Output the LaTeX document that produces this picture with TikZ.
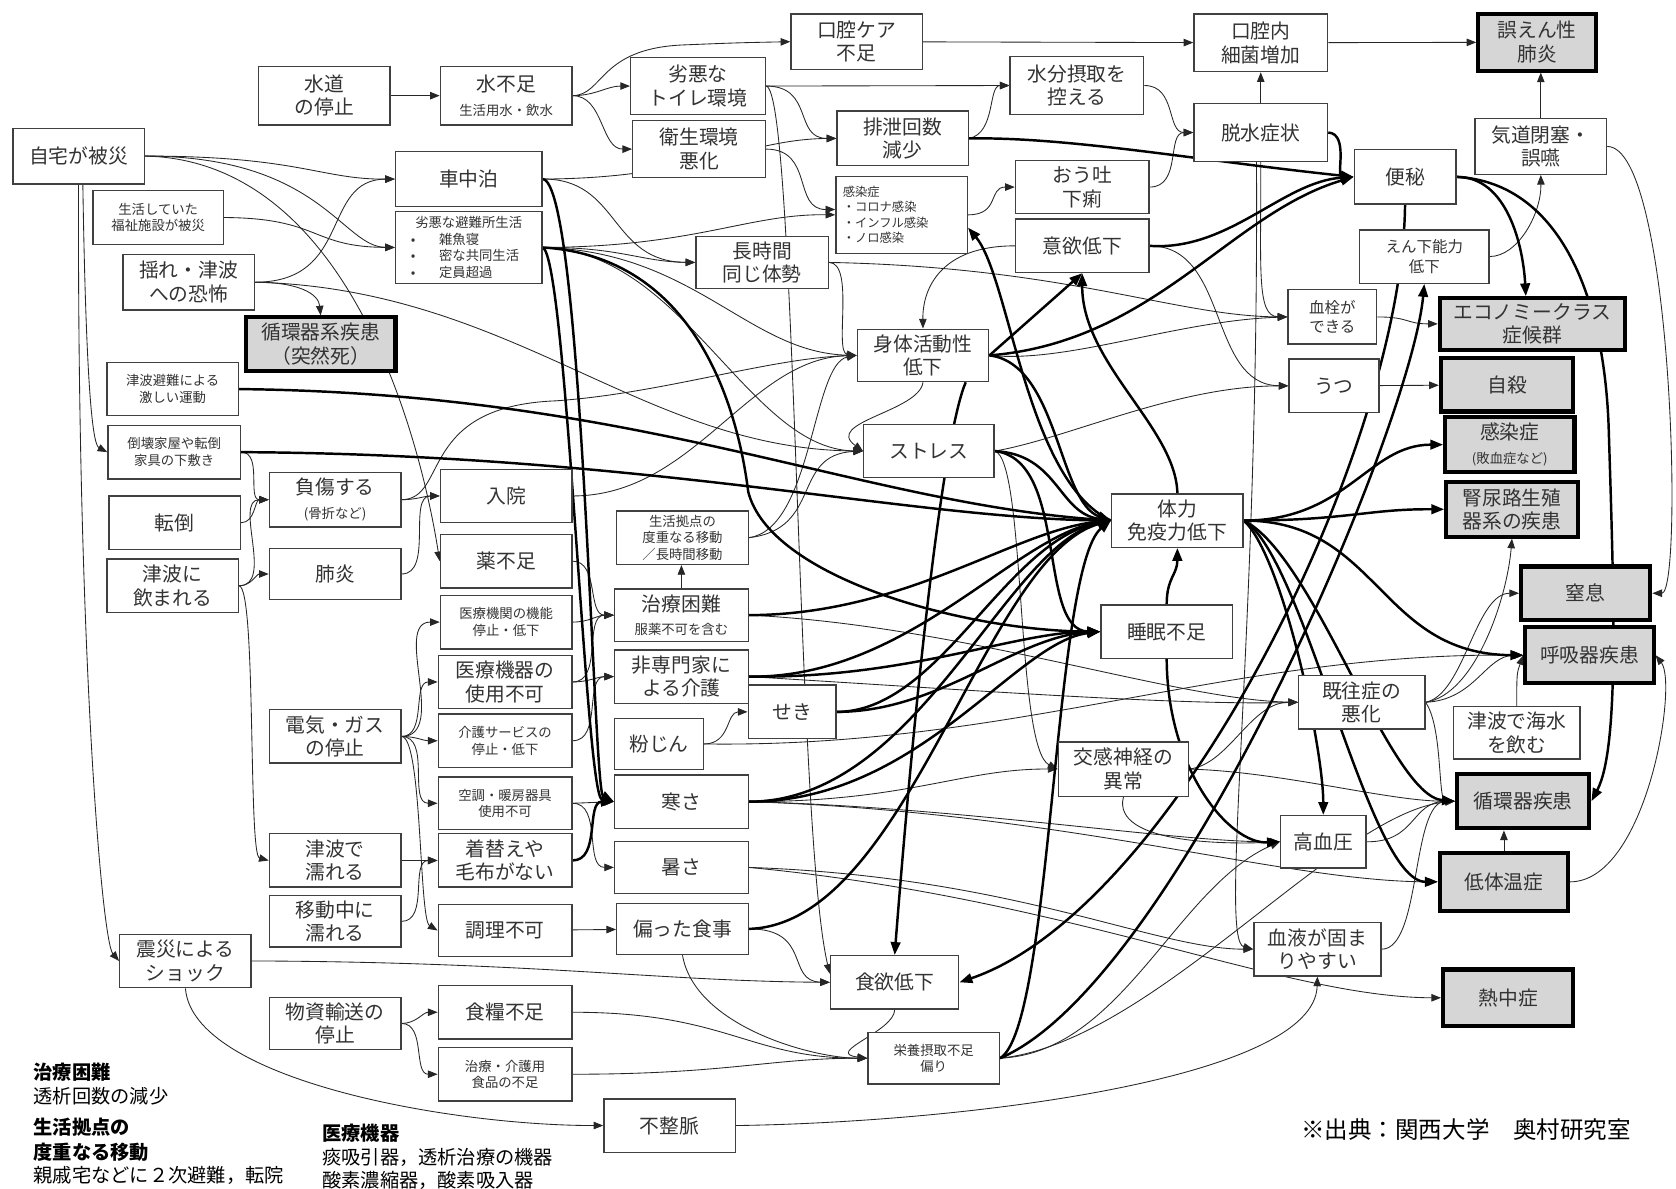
\documentclass[tikz,border=0pt]{standalone}
\usepackage{fontspec}
\setmainfont{Noto Sans CJK JP}
\usetikzlibrary{arrows.meta,calc}
\pgfdeclarelayer{bg}
\pgfsetlayers{bg,main}
\newcommand\fsM{\fontsize{18.5}{22}\selectfont}
\newcommand\fsN{\fontsize{14.5}{18}\selectfont}
\newcommand\fsS{\fontsize{12.5}{15.5}\selectfont}
\newcommand\fsT{\fontsize{11.5}{14.5}\selectfont}
\newcommand\fsL{\fontsize{18}{22}\selectfont}
\newcommand\bx[7][]{\node[nbox,minimum width={(#5-#3)*1pt},minimum height={(#6-#4)*1pt},#1] (#2) at ({(#3+#5)/2},{(#4+#6)/2}) {#7};}
\tikzset{
 nbox/.style={draw=black!75,line width=1.3pt,fill=white,inner sep=1pt,align=center,text=black!80,font=\fsM},
 gbox/.style={fill=black!16,draw=black,line width=3.8pt},
 ar/.style={line width=0.8pt,draw=black!85,-{Triangle[length=9pt,width=7pt]}},
 tk/.style={line width=2.3pt,draw=black,-{Triangle[length=12pt,width=9pt]}},
}
\begin{document}
\begin{tikzpicture}[x=1pt,y=-1pt]
\begin{pgfonlayer}{bg}
\fill[white] (0,0) rectangle (1568,1112);
\end{pgfonlayer}
\useasboundingbox (0,0) rectangle (1568,1112);
% nodes
\bx{koukuu}{740}{13}{863}{65}{口腔ケア\\不足}
\bx{naiku}{1117}{13}{1242}{67}{口腔内\\細菌増加}
\bx[gbox]{goen}{1383}{13}{1493}{66}{誤えん性\\肺炎}
\bx{suido}{242}{62}{365}{117}{水道\\の停止}
\bx{mizu}{412}{62}{535}{117}{水不足\\{\fsS 生活用水・飲水}}
\bx{toilet}{590}{54}{716}{107}{劣悪な\\トイレ環境}
\bx{suibun}{945}{53}{1070}{107}{水分摂取を\\控える}
\bx{eisei}{592}{113}{716}{166}{衛生環境\\悪化}
\bx{haisetsu}{783}{104}{906}{155}{排泄回数\\減少}
\bx{dassui}{1117}{97}{1242}{151}{脱水症状}
\bx{jitaku}{12}{120}{135}{172}{自宅が被災}
\bx{kidou}{1380}{111}{1503}{163}{気道閉塞・\\誤嚥}
\bx{sha}{370}{142}{507}{193}{車中泊}
\bx{benpi}{1267}{140}{1362}{191}{便秘}
\bx{outo}{950}{150}{1075}{200}{おう吐\\下痢}
\bx[font=\fsT,align=left,text width=110pt]{kansen}{782}{165}{905}{237}{感染症\\ ・コロナ感染\\ ・インフル感染\\ ・ノロ感染}
\bx[font=\fsS]{fukushi}{87}{178}{209}{229}{生活していた\\福祉施設が被災}
\bx[font=\fsS,align=left,text width=128pt]{hinan}{370}{198}{507}{265}{\makebox[128pt][c]{劣悪な避難所生活}\\ \hspace*{10pt}•\hspace{22pt}雑魚寝\\ \hspace*{10pt}•\hspace{22pt}密な共同生活\\ \hspace*{10pt}•\hspace{22pt}定員超過}
\bx{iyoku}{950}{205}{1075}{255}{意欲低下}
\bx[font=\fsN]{enka}{1272}{215}{1393}{265}{えん下能力\\低下}
\bx{nagai}{651}{221}{775}{270}{長時間\\同じ体勢}
\bx{yure}{115}{238}{238}{290}{揺れ・津波\\への恐怖}
\bx[font=\fsN]{kessen}{1205}{271}{1288}{322}{血栓が\\できる}
\bx[gbox]{economy}{1347}{279}{1520}{327}{エコノミークラス\\症候群}
\bx[gbox]{junkankei}{230}{297}{370}{347}{循環器系疾患\\（突然死）}
\bx{shintai}{802}{308}{925}{357}{身体活動性\\低下}
\bx[font=\fsS]{tsunamihinan}{100}{339}{223}{389}{津波避難による\\激しい運動}
\bx{utsu}{1206}{336}{1290}{386}{うつ}
\bx[gbox]{jisatsu}{1348}{335}{1472}{385}{自殺}
\bx[font=\fsS]{toukai}{101}{398}{225}{448}{倒壊家屋や転倒\\家具の下敷き}
\bx{stress}{808}{397}{930}{447}{ストレス}
\bx[gbox]{sepsis}{1352}{390}{1473}{442}{感染症\\{\fsS (敗血症など)}}
\bx{nyuin}{412}{439}{535}{489}{入院}
\bx{kega}{252}{442}{375}{493}{負傷する\\{\fsS (骨折など)}}
\bx[gbox]{jinnyou}{1353}{451}{1476}{502}{腎尿路生殖\\器系の疾患}
\bx{tairyoku}{1040}{462}{1163}{512}{体力\\免疫力低下}
\bx{tentou}{102}{464}{225}{514}{転倒}
\bx[font=\fsS]{kyoten}{577}{478}{700}{528}{生活拠点の\\度重なる移動\\／長時間移動}
\bx{kusuri}{412}{500}{535}{550}{薬不足}
\bx{haien}{252}{513}{375}{561}{肺炎}
\bx{nomareru}{100}{523}{223}{573}{津波に\\飲まれる}
\bx[gbox]{chissoku}{1423}{530}{1544}{580}{窒息}
\bx[font=\fsS]{kikan}{412}{557}{535}{607}{医療機関の機能\\停止・低下}
\bx{chiryou}{575}{551}{700}{600}{治療困難\\{\fsS 服薬不可を含む}}
\bx{suimin}{1030}{566}{1153}{616}{睡眠不足}
\bx[gbox]{kokyuuki}{1427}{587}{1547}{639}{呼吸器疾患}
\bx{kiki}{410}{613}{535}{663}{医療機器の\\使用不可}
\bx{hisenmon}{575}{608}{700}{658}{非専門家に\\よる介護}
\bx{kiou}{1215}{632}{1333}{682}{既往症の\\悪化}
\bx{seki}{700}{641}{782}{691}{せき}
\bx{kaisui}{1360}{661}{1478}{710}{津波で海水\\を飲む}
\bx{denki}{252}{664}{375}{714}{電気・ガス\\の停止}
\bx[font=\fsS]{kaigo}{410}{668}{535}{718}{介護サービスの\\停止・低下}
\bx{funjin}{575}{672}{658}{720}{粉じん}
\bx{kousin}{990}{694}{1112}{745}{交感神経の\\異常}
\bx[font=\fsS]{kuchou}{410}{727}{535}{776}{空調・暖房器具\\使用不可}
\bx{samusa}{575}{725}{700}{775}{寒さ}
\bx[gbox]{junkan}{1363}{724}{1487}{775}{循環器疾患}
\bx{kouketsu}{1198}{763}{1278}{812}{高血圧}
\bx{nureru}{252}{780}{375}{830}{津波で\\濡れる}
\bx{kigae}{410}{780}{535}{830}{着替えや\\毛布がない}
\bx{atsusa}{575}{787}{700}{836}{暑さ}
\bx[gbox]{teitaion}{1347}{798}{1467}{852}{低体温症}
\bx{idou}{252}{838}{375}{886}{移動中に\\濡れる}
\bx{chouri}{410}{846}{535}{895}{調理不可}
\bx{katayotta}{577}{845}{700}{893}{偏った食事}
\bx{ketsueki}{1173}{863}{1292}{913}{血液が固ま\\りやすい}
\bx{shinsai}{112}{874}{235}{924}{震災による\\ショック}
\bx{shokuyoku}{777}{894}{897}{944}{食欲低下}
\bx[gbox]{netsu}{1350}{907}{1472}{960}{熱中症}
\bx{butsushi}{252}{933}{375}{982}{物資輸送の\\停止}
\bx{shokuryou}{410}{922}{535}{972}{食糧不足}
\bx[font=\fsS]{eiyou}{812}{966}{935}{1014}{栄養摂取不足\\偏り}
\bx[font=\fsS]{shokuhin}{410}{980}{535}{1030}{治療・介護用\\食品の不足}
\bx{fusei}{565}{1028}{688}{1078}{不整脈}
% legend
\node[anchor=west,font=\fsL\bfseries] (lg1) at (28,1003) {治療困難};
\node[anchor=west,font=\fsL] (lg2) at (28,1026) {透析回数の減少};
\node[anchor=west,font=\fsL\bfseries] (lg3) at (28,1055) {生活拠点の};
\node[anchor=west,font=\fsL\bfseries] (lg4) at (28,1078) {度重なる移動};
\node[anchor=west,font=\fsL] (lg5) at (28,1100) {親戚宅などに２次避難，転院};
\node[anchor=west,font=\fsL\bfseries] (lg6) at (298,1060) {医療機器};
\node[anchor=west,font=\fsL] (lg7) at (298,1083) {痰吸引器，透析治療の機器};
\node[anchor=west,font=\fsL] (lg8) at (298,1104) {酸素濃縮器，酸素吸入器};
\node[anchor=west,font=\fontsize{22}{26}\selectfont] (src) at (1214,1057) {※出典：関西大学　奥村研究室};
\begin{pgfonlayer}{bg}
% thin connectors
\draw[ar] (suido) -- (mizu);
\draw[ar] (mizu.east) .. controls (565,89) and (560,45) .. (640,42) .. controls (690,40) .. (koukuu.west);
\draw[ar] (mizu.east) to[out=0,in=180] (toilet.west);
\draw[ar] (mizu.east) to[out=0,in=180] (eisei.west);
\draw[ar] (koukuu) -- (naiku);
\draw[ar] (naiku) -- (goen);
\draw[ar] (toilet.east) -- (suibun.west);
\draw[ar] (toilet.east) .. controls +(45,0) and +(-40,0) .. (haisetsu.west);
\draw[ar] (toilet.east) .. controls (745,82) and (745,780) .. ($(shokuyoku.west)+(0,-8)$);
\draw[ar] (eisei.east) .. controls +(45,0) and +(-40,0) .. ($(kansen.west)+(0,-5)$);
\draw[ar] (suibun.east) .. controls +(30,0) and +(-25,0) .. (dassui.west);
\draw[ar] (outo.east) .. controls +(30,0) and +(-25,0) .. (dassui.west);
\draw[ar] (dassui) -- (naiku);
\draw[ar] (haisetsu.east) .. controls +(25,-5) and +(-20,0) .. (suibun.west);
\draw[ar] (dassui.south) .. controls (1180,250) and (1175,296) .. (kessen.west);
\draw[ar] ($(dassui.south)+(-4,0)$) .. controls (1178,600) and (1140,880) .. (ketsueki.west);
\draw[ar] (kidou.north) -- (kidou.north |- goen.south);
\draw[ar] (kidou.east) .. controls (1565,137) and (1575,555) .. (chissoku.east);
\draw[ar] (enka.east) .. controls (1420,240) and (1442,200) .. (kidou.south);
\draw[ar] (kessen.east) .. controls +(30,0) and +(-30,0) .. (economy.west);
\draw[ar] (utsu) -- (jisatsu);
\draw[ar] (kansen.east) .. controls +(30,0) and +(-25,0) .. (outo.west);
\draw[ar] (iyoku.west) .. controls (880,230) and (863,270) .. (shintai.north);
\draw[ar] (iyoku.east) .. controls (1150,230) and (1130,360) .. (utsu.west);
\draw[ar] (nagai.east) .. controls (1000,250) and (1100,296) .. (kessen.west);
\draw[ar] (nagai.east) .. controls (800,246) and (780,330) .. (shintai.west);
\draw[ar] (sha.east) .. controls (650,167) and (700,130) .. (haisetsu.west);
\draw[ar] (sha.east) .. controls (580,167) and (570,245) .. (nagai.west);
\draw[ar] (hinan.east) .. controls (650,231) and (700,200) .. (kansen.west);
\draw[ar] (hinan.east) .. controls (580,231) and (600,245) .. (nagai.west);
\draw[ar] (jitaku.east) .. controls (280,146) and (300,168) .. (sha.west);
\draw[ar] (jitaku.east) .. controls (300,146) and (320,231) .. (hinan.west);
\draw[ar] (jitaku.east) .. controls (330,150) and (395,420) .. (kusuri.west);
\draw[ar] ($(jitaku.south)+(4,0)$) .. controls (80,330) and (85,415) .. (toukai.west);
\draw[ar] (jitaku.south) .. controls (72,600) and (95,880) .. (shinsai.west);
\draw[ar] (fukushi.east) .. controls (300,204) and (290,231) .. (hinan.west);
\draw[ar] (yure.east) .. controls (330,264) and (300,168) .. (sha.west);
\draw[ar] (yure.east) .. controls (280,264) and (298,275) .. (junkankei.north);
\draw[ar] (yure.east) .. controls (480,270) and (600,420) .. (stress.west);
\draw[ar] (kega.east) to[out=0,in=180] (nyuin.west);
\draw[ar] (kega.east) .. controls (420,467) and (390,380) .. (520,375) .. controls (620,368) and (720,335) .. (shintai.west);
\draw[ar] (haien.east) .. controls +(30,0) and +(-30,0) .. (nyuin.west);
\draw[ar] (nyuin.east) .. controls (650,464) and (700,335) .. (shintai.west);
\draw[ar] (toukai.east) to[out=0,in=180] (kega.west);
\draw[ar] (tentou.east) to[out=0,in=180] (kega.west);
\draw[ar] (nomareru.east) to[out=0,in=180] (kega.west);
\draw[ar] (nomareru.east) to[out=0,in=180] (haien.west);
\draw[ar] (nomareru.east) .. controls (240,550) and (232,800) .. (nureru.west);
\draw[ar] (kusuri.east) to[out=0,in=180] (chiryou.west);
\draw[ar] (kikan.east) to[out=0,in=180] (chiryou.west);
\draw[ar] (kiki.east) to[out=0,in=180] (chiryou.west);
\draw[ar] (kiki.east) to[out=0,in=180] (hisenmon.west);
\draw[ar] (kaigo.east) to[out=0,in=180] (hisenmon.west);
\draw[ar] (denki.east) to[out=0,in=180] (kikan.west);
\draw[ar] (denki.east) to[out=0,in=180] (kiki.west);
\draw[ar] (denki.east) to[out=0,in=180] (kaigo.west);
\draw[ar] (denki.east) to[out=0,in=180] (kuchou.west);
\draw[ar] (denki.east) .. controls (395,689) and (392,860) .. (chouri.west);
\draw[ar] (kuchou.east) -- (samusa.west);
\draw[ar] (kuchou.east) to[out=0,in=180] (atsusa.west);
\draw[ar] (nureru) -- (kigae);
\draw[ar] (idou.east) to[out=0,in=180] (kigae.west);
\draw[ar] (chouri) -- (katayotta);
\draw[ar] (butsushi.east) to[out=0,in=180] (shokuryou.west);
\draw[ar] (butsushi.east) to[out=0,in=180] (shokuhin.west);
\draw[ar] (shokuryou.east) .. controls (680,947) and (700,990) .. (eiyou.west);
\draw[ar] (shokuhin.east) .. controls (680,1005) and (720,990) .. (eiyou.west);
\draw[ar] (shinsai.east) .. controls (500,900) and (620,918) .. (shokuyoku.west);
\draw[ar] (shinsai.south) .. controls (180,1010) and (420,1053) .. (fusei.west);
\draw[ar] (katayotta.east) .. controls (760,869) and (735,918) .. (shokuyoku.west);
\draw[ar] (katayotta.south) .. controls (650,960) and (760,990) .. (eiyou.west);
\draw[ar] (shokuyoku.south) .. controls (837,965) and (770,985) .. (eiyou.west);
\draw[ar] (chiryou.north) -- (chiryou.north |- kyoten.south);
\draw[ar] (kyoten.east) .. controls (770,495) and (740,425) .. (stress.west);
\draw[ar] (kyoten.east) .. controls (760,495) and (760,340) .. (shintai.west);
\draw[ar] (chiryou.east) .. controls (900,585) and (1100,655) .. (kiou.west);
\draw[ar] (hisenmon.east) .. controls (900,645) and (1100,660) .. (kiou.west);
\draw[ar] (funjin.east) .. controls +(25,0) and +(-20,0) .. (seki.west);
\draw[ar] (funjin.east) .. controls (950,700) and (1150,610) .. (kokyuuki.west);
\draw[ar] (samusa.east) .. controls (850,750) and (900,719) .. (kousin.west);
\draw[ar] (samusa.east) .. controls (900,755) and (1100,788) .. (kouketsu.west);
\draw[ar] (samusa.east) .. controls (1000,760) and (1200,825) .. (teitaion.west);
\draw[ar] (atsusa.east) .. controls (950,820) and (1080,888) .. (ketsueki.west);
\draw[ar] (atsusa.east) .. controls (1000,840) and (1200,933) .. (netsu.west);
\draw[ar] (kousin.south) .. controls (1040,790) and (1150,790) .. (kouketsu.west);
\draw[ar] (kousin.east) .. controls (1200,722) and (1300,750) .. (junkan.west);
\draw[ar] (kousin.east) .. controls (1150,715) and (1170,657) .. (kiou.west);
\draw[ar] (kouketsu.east) .. controls (1325,788) and (1320,750) .. (junkan.west);
\draw[ar] (ketsueki.east) .. controls (1330,888) and (1320,750) .. (junkan.west);
\draw[ar] (teitaion.north) -- (teitaion.north |- junkan.south);
\draw[ar] (teitaion.east) .. controls (1540,825) and (1570,640) .. (kokyuuki.east);
\draw[ar] (kiou.east) .. controls (1370,650) and (1380,555) .. (chissoku.west);
\draw[ar] (kiou.east) .. controls (1380,655) and (1390,613) .. (kokyuuki.west);
\draw[ar] (kiou.east) .. controls (1380,650) and (1410,560) .. (jinnyou.south);
\draw[ar] (kiou.east) .. controls (1350,680) and (1345,750) .. (junkan.west);
\draw[ar] (kaisui.north) .. controls (1419,630) .. (kokyuuki.west);
\draw[ar] (fusei.east) .. controls (900,1050) and (1230,1010) .. (ketsueki.south);
\draw[ar] (eiyou.east) .. controls (1050,985) and (1100,830) .. (kouketsu.west);
\draw[ar] (eiyou.east) .. controls (1080,975) and (1250,760) .. (junkan.west);
\draw[ar] (stress.east) .. controls (960,430) and (950,700) .. (kousin.west);
\draw[ar] (stress.east) .. controls (1000,410) and (1100,361) .. (utsu.west);
\draw[ar] (shintai.south) .. controls (860,385) and (770,395) .. (stress.west);
\draw[ar] (hinan.east) .. controls (650,235) and (700,330) .. (shintai.west);
\draw[ar] (hinan.east) .. controls (640,235) and (700,420) .. (stress.west);
\draw[ar] (shintai.east) .. controls (1000,340) and (1100,300) .. (kessen.west);
% thick connectors
\draw[tk] (tsunamihinan.east) .. controls (600,368) and (800,470) .. (tairyoku.west);
\draw[tk] (toukai.east) .. controls (600,425) and (850,485) .. (tairyoku.west);
\draw[tk] (shintai.east) .. controls (990,340) and (990,470) .. (tairyoku.west);
\draw[tk] (shintai.east) -- (iyoku.south);
\draw[tk] (shintai.east) .. controls (1080,320) and (1150,200) .. (benpi.west);
\draw[tk] (stress.east) .. controls (990,425) and (990,480) .. (tairyoku.west);
\draw[tk] (stress.east) .. controls (1000,430) and (970,590) .. (suimin.west);
\draw[tk] (hinan.east) .. controls (650,240) and (690,380) .. (700,460) .. controls (720,540) and (900,590) .. (suimin.west);
\draw[tk] (sha.east) .. controls (545,170) and (555,740) .. (samusa.west);
\draw[tk] (hinan.east) .. controls (530,240) and (548,745) .. (samusa.west);
\draw[tk] (chiryou.east) .. controls (850,575) and (950,495) .. (tairyoku.west);
\draw[tk] (hisenmon.east) .. controls (850,635) and (950,500) .. (tairyoku.west);
\draw[tk] (hisenmon.east) .. controls (850,635) and (950,591) .. (suimin.west);
\draw[tk] (seki.east) .. controls (880,666) and (940,505) .. (tairyoku.west);
\draw[tk] (seki.east) .. controls (880,666) and (950,595) .. (suimin.west);
\draw[tk] (samusa.east) .. controls (860,750) and (940,510) .. (tairyoku.west);
\draw[tk] (samusa.east) .. controls (860,750) and (950,600) .. (suimin.west);
\draw[tk] (katayotta.east) .. controls (850,865) and (920,520) .. (tairyoku.west);
\draw[tk] (eiyou.east) .. controls (985,960) and (985,530) .. (tairyoku.west);
\draw[tk] (eiyou.east) .. controls (1100,920) and (1320,400) .. (enka.south);
\draw[tk] (benpi.south) .. controls (1312,420) and (1100,850) .. (shokuyoku.east);
\draw[tk] (suimin.north) .. controls +(0,-25) and +(0,25) .. (tairyoku.south);
\draw[tk] (tairyoku.north) .. controls (1100,400) and (1012,340) .. (iyoku.south);
\draw[tk] (tairyoku.west) .. controls (960,450) and (945,260) .. ($(kansen.east)+(0,12)$);
\draw[tk] (iyoku.east) .. controls (1150,235) and (1200,170) .. (benpi.west);
\draw[tk] (haisetsu.east) .. controls (1000,128) and (1120,150) .. (benpi.west);
\draw[tk] (dassui.east) .. controls (1262,125) and (1250,165) .. (benpi.west);
\draw[tk] (benpi.east) .. controls (1410,165) and (1425,230) .. ($(economy.north)+(-6,0)$);
\draw[tk] (benpi.east) .. controls (1450,170) and (1500,260) .. (1505,400) .. controls (1510,560) and (1515,700) .. (junkan.east);
\draw[tk] (tairyoku.east) .. controls (1260,487) and (1280,416) .. (sepsis.west);
\draw[tk] (tairyoku.east) .. controls (1260,487) and (1280,476) .. (jinnyou.west);
\draw[tk] (tairyoku.east) .. controls (1290,487) and (1290,612) .. (kokyuuki.west);
\draw[tk] (tairyoku.east) .. controls (1200,520) and (1238,700) .. (kouketsu.north);
\draw[tk] (tairyoku.east) .. controls (1220,520) and (1280,825) .. (teitaion.west);
\draw[tk] (tairyoku.east) .. controls (1230,520) and (1300,745) .. (junkan.west);
\draw[tk] (suimin.south) .. controls (1092,720) and (1150,790) .. (kouketsu.west);
\draw[tk] ($(shintai.south)+(40,0)$) .. controls (885,400) and (860,600) .. (shokuyoku.north);
\draw[tk] (kigae.east) to[out=0,in=180] (samusa.west);
\end{pgfonlayer}
\end{tikzpicture}
\end{document}
